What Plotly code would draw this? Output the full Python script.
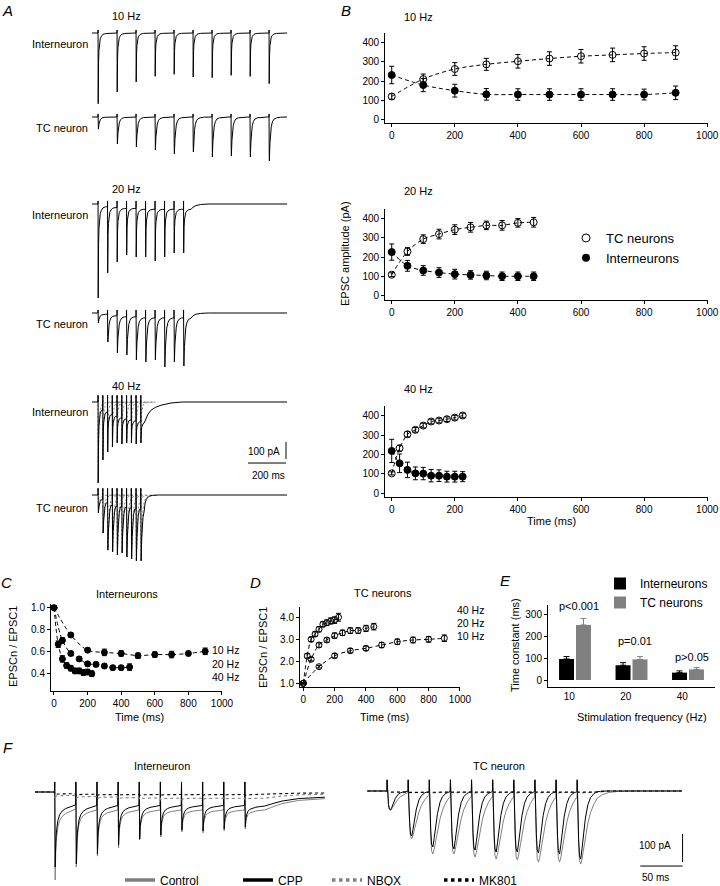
import plotly.graph_objects as go

W, H = 720, 886
FONT = "Liberation Sans"
GREY = "#808080"

# ---------------------------------------------------------------- data
# stimulus times (ms) of the 10-pulse trains
T10 = [0, 100, 200, 300, 400, 500, 600, 700, 800, 900]
T20 = [0, 50, 100, 150, 200, 250, 300, 350, 400, 450]
T40 = [0, 25, 50, 75, 100, 125, 150, 175, 200, 225]

# B: EPSC amplitude (pA), mean and SEM
B10_TC = [120, 210, 262, 286, 302, 316, 328, 335, 342, 347]
B10_TC_ERR = [14, 26, 33, 31, 35, 35, 35, 35, 35, 35]
B10_IN = [231, 179, 150, 131, 130, 130, 130, 130, 130, 139]
B10_IN_ERR = [45, 34, 33, 30, 30, 30, 30, 30, 28, 35]
B20_TC = [110, 230, 294, 320, 343, 355, 365, 365, 378, 381]
B20_TC_ERR = [10, 20, 22, 25, 25, 25, 22, 25, 22, 25]
B20_IN = [227, 156, 132, 121, 113, 109, 106, 102, 102, 102]
B20_IN_ERR = [42, 28, 25, 25, 25, 22, 22, 22, 22, 22]
B40_TC = [103, 233, 305, 328, 350, 371, 376, 383, 391, 402]
B40_TC_ERR = [8, 15, 14, 12, 12, 12, 12, 12, 12, 12]
B40_IN = [219, 155, 121, 103, 102, 91, 91, 86, 86, 86]
B40_IN_ERR = [60, 48, 40, 33, 32, 32, 30, 28, 28, 26]

# C: interneurons, EPSCn / EPSC1
C10 = [1.0, 0.75, 0.61, 0.59, 0.58, 0.56, 0.57, 0.57, 0.58, 0.60]
C10_ERR = [0.0, 0.02, 0.02, 0.03, 0.025, 0.025, 0.025, 0.03, 0.02, 0.03]
C20 = [1.0, 0.70, 0.58, 0.53, 0.485, 0.48, 0.465, 0.45, 0.45, 0.455]
C20_ERR = [0.0, 0.025, 0.02, 0.02, 0.02, 0.02, 0.02, 0.02, 0.02, 0.03]
C40 = [1.0, 0.665, 0.53, 0.47, 0.445, 0.42, 0.42, 0.405, 0.41, 0.395]
C40_ERR = [0.0, 0.03, 0.03, 0.025, 0.025, 0.025, 0.025, 0.025, 0.025, 0.025]

# D: TC neurons, EPSCn / EPSC1
D10 = [1.0, 1.76, 2.26, 2.49, 2.60, 2.75, 2.90, 2.98, 3.01, 3.06]
D10_ERR = [0.03, 0.06, 0.1, 0.1, 0.1, 0.12, 0.12, 0.13, 0.13, 0.15]
D20 = [1.0, 2.10, 2.75, 2.98, 3.18, 3.31, 3.41, 3.41, 3.51, 3.59]
D20_ERR = [0.03, 0.08, 0.1, 0.1, 0.12, 0.12, 0.13, 0.13, 0.14, 0.15]
D40 = [1.0, 2.25, 3.01, 3.25, 3.47, 3.70, 3.77, 3.85, 3.89, 4.02]
D40_ERR = [0.03, 0.1, 0.1, 0.1, 0.12, 0.12, 0.13, 0.14, 0.15, 0.18]

# E: time constants (ms)
E_FREQ = ["10", "20", "40"]
E_IN = [97, 68, 34]
E_IN_ERR = [11, 12, 8]
E_TC = [254, 95, 49]
E_TC_ERR = [30, 13, 8]
E_P = ["p<0.001", "p=0.01", "p>0.05"]
E_P_Y = [341, 180, 106]

# A: example traces, EPSC peak (pA) and sustained current between pulses (pA)
A_IN10 = [416, 347, 288, 255, 243, 259, 263, 249, 255, 298]
A_IN10_PL = [0, 0, 0, 0, 0, 0, 0, 0, 0, 0]
A_TC10 = [71, 159, 176, 194, 218, 206, 235, 229, 235, 259]
A_TC10_PL = [0, 0, 0, 0, 0, 0, 0, 0, 0, 0]
A_IN20 = [553, 406, 341, 300, 312, 312, 335, 312, 288, 288]
A_IN20_PL = [12, 18, 24, 24, 29, 29, 29, 29, 29, 29]
A_TC20 = [59, 171, 235, 247, 276, 288, 276, 318, 288, 312]
A_TC20_PL = [6, 12, 18, 18, 24, 24, 24, 24, 24, 24]
A_IN40 = [476, 341, 294, 265, 241, 247, 241, 241, 247, 241]
A_IN40_PL = [29, 47, 65, 76, 88, 94, 100, 106, 112, 118]
A_TC40 = [106, 224, 324, 335, 353, 341, 365, 376, 388, 388]
A_TC40_PL = [18, 24, 29, 35, 35, 41, 41, 47, 47, 59]

# EPSC waveform templates (time after stimulus in ms, fraction of peak)
SHAPE_IN_T = [1, 2, 3, 5, 8, 12, 18, 26, 40, 60, 90]
SHAPE_IN_F = [1.0, 0.62, 0.42, 0.25, 0.14, 0.08, 0.045, 0.02, 0.008, 0.002, 0.0]
SHAPE_TC_T = [1, 2, 3, 5, 8, 12, 18, 26, 40, 60, 90]
SHAPE_TC_F = [0.8, 1.0, 0.85, 0.6, 0.38, 0.22, 0.11, 0.05, 0.02, 0.005, 0.0]
# decay after the last pulse (ms after, fraction of the last level)
TAIL_NONE = ([], [])
TAIL_IN20 = ([10, 25, 50, 90], [0.6, 0.3, 0.1, 0.0])
TAIL_TC20 = ([10, 25, 50, 90], [0.55, 0.25, 0.08, 0.0])
TAIL_IN40 = ([10, 20, 35, 60, 90, 140, 200], [0.75, 0.58, 0.4, 0.25, 0.15, 0.05, 0.0])
TAIL_TC40 = ([5, 12, 25, 45, 80], [0.5, 0.25, 0.08, 0.02, 0.0])

# F: pharmacology, 40 Hz trains
F_IN_CTRL = [314, 268, 229, 200, 171, 161, 143, 146, 139, 132]
F_IN_CTRL_PL = [62, 64, 64, 64, 64, 64, 64, 64, 64, 64]
F_IN_CPP = [268, 257, 221, 189, 168, 154, 136, 139, 132, 125]
F_IN_CPP_PL = [46, 48, 48, 48, 48, 48, 48, 48, 48, 50]
F_IN_NBQX = [18, 22, 24, 26, 27, 28, 28, 28, 28, 28]
F_IN_NBQX_PL = [12, 16, 18, 20, 21, 22, 22, 22, 22, 22]
F_IN_MK = [10, 12, 12, 12, 12, 12, 12, 12, 12, 12]
F_IN_MK_PL = [6, 8, 9, 9, 9, 9, 9, 9, 9, 9]
F_TC_CTRL = [68, 171, 225, 225, 236, 243, 246, 254, 254, 261]
F_TC_CPP = [68, 161, 200, 207, 211, 218, 218, 221, 225, 243]
F_TC_NBQX = [6, 7, 7, 7, 7, 7, 7, 7, 7, 7]
F_TC_MK = [4, 5, 5, 5, 5, 5, 5, 5, 5, 5]
F_ZERO = [0, 0, 0, 0, 0, 0, 0, 0, 0, 0]
F_TC_SMALL_PL = [3, 4, 4, 4, 4, 4, 4, 4, 4, 4]

F_IN_T = [0.8, 1.5, 2.5, 4, 6, 9, 13, 18, 24]
F_IN_F = [1.0, 0.6, 0.4, 0.25, 0.16, 0.1, 0.06, 0.03, 0.0]
F_TC_T = [1, 2, 3, 4.5, 6, 8, 10, 13, 16, 20, 24]
F_TC_CPP_F = [0.3, 0.7, 0.95, 1.0, 0.85, 0.6, 0.4, 0.2, 0.1, 0.04, 0.01]
F_TC_CTRL_F = [0.3, 0.7, 0.95, 1.0, 0.93, 0.78, 0.62, 0.44, 0.3, 0.18, 0.1]
F_TAIL_IN = ([8, 20, 40, 65, 93], [0.85, 0.65, 0.47, 0.36, 0.3])
F_TAIL_TC_CTRL = ([6, 14, 25, 40], [0.5, 0.2, 0.05, 0.0])
F_TAIL_TC_CPP = ([6, 14], [0.3, 0.0])

# scale bars
A_BAR_PA, A_BAR_MS = 100, 200
F_BAR_PA, F_BAR_MS = 100, 50


# ---------------------------------------------------------------- helpers
def train(times, peaks, plateaus, shp_t, shp_f, tail, art, t_start, t_end):
    """Build a current trace from a train of EPSCs."""
    interval = times[1] - times[0]
    xs, ys = [t_start], [0.0]
    level = 0.0
    for i, t0 in enumerate(times):
        xs.append(t0)
        ys.append(level)
        if art:
            xs.append(t0 + 0.3)
            ys.append(art)
        pl = -plateaus[i]
        for dt, f in zip(shp_t, shp_f):
            if dt >= interval - 0.5:
                break
            xs.append(t0 + dt)
            ys.append(pl + (-peaks[i] - pl) * f)
        level = ys[-1]
    t_last = xs[-1]
    for dt, f in zip(*tail):
        xs.append(t_last + dt)
        ys.append(level * f)
    if xs[-1] < t_end:
        xs.append(t_end)
        ys.append(ys[-1])
    return xs, ys


def singles(times, peaks, shp_t, shp_f, art):
    xs, ys = [], []
    for t0, pk in zip(times, peaks):
        xs += [t0, t0 + 0.3]
        ys += [0, art]
        for dt, f in zip(shp_t, shp_f):
            xs.append(t0 + dt)
            ys.append(-pk * f)
        xs.append(None)
        ys.append(None)
    return xs, ys


def sfx(n):
    return "" if n == 1 else str(n)


def clamp(v):
    return min(1.0, max(0.0, v))


layout_axes = {}
AX = dict(showline=True, linecolor="black", linewidth=1, ticks="outside",
          ticklen=3, tickwidth=1, tickcolor="black", showgrid=False,
          zeroline=False, fixedrange=True, automargin=False,
          ticklabelposition="outside", ticklabeloverflow="allow",
          tickfont=dict(size=10, color="black", family=FONT))


def add_axes(n, x0px, xscale, xr, y0px, yscale, yr, visible=True, xkw=None, ykw=None):
    """x0px / y0px: pixel of data value 0, scales in px per unit."""
    s = sfx(n)
    base = AX if visible else dict(visible=False, fixedrange=True)
    xl, xr_ = x0px + xr[0] * xscale, x0px + xr[1] * xscale
    yt, yb = y0px - yr[1] * yscale, y0px - yr[0] * yscale
    xa = dict(base, domain=[clamp(xl / W), clamp(xr_ / W)], range=xr, anchor="y" + s)
    ya = dict(base, domain=[clamp(1 - yb / H), clamp(1 - yt / H)], range=yr, anchor="x" + s)
    xa.update(xkw or {})
    ya.update(ykw or {})
    layout_axes["xaxis" + s] = xa
    layout_axes["yaxis" + s] = ya


def series(n, t, y, err, filled, size):
    s = sfx(n)
    return go.Scatter(
        x=t, y=y, xaxis="x" + s, yaxis="y" + s, mode="lines+markers",
        line=dict(color="black", width=1, dash="4px,3px", shape="spline", smoothing=0.9),
        marker=dict(symbol="circle" if filled else "circle-open", size=size,
                    color="black", line=dict(color="black", width=1)),
        error_y=dict(type="data", array=err, color="black", thickness=1, width=2.5),
        showlegend=False, hoverinfo="skip")


def wave(n, xs, ys, color="black", dash=None, width=1):
    s = sfx(n)
    return go.Scatter(x=xs, y=ys, xaxis="x" + s, yaxis="y" + s, mode="lines",
                      line=dict(color=color, width=width, dash=dash),
                      showlegend=False, hoverinfo="skip")


def label(text, x, y, size=11, xanchor="center", angle=0, color="black"):
    return dict(text=text, x=x / W, y=1 - y / H, xref="paper", yref="paper",
                xanchor=xanchor, yanchor="middle", showarrow=False,
                textangle=angle, font=dict(size=size, color=color, family=FONT))


fig = go.Figure()

# ---------------------------------------------------------------- B
B_X = dict(tickvals=[0, 200, 400, 600, 800, 1000])
B_Y = dict(tickvals=[0, 100, 200, 300, 400])
for n, zero_px in [(1, 119.7), (2, 296.0), (3, 493.3)]:
    add_axes(n, 391.7, 0.3155, [-21, 1001], zero_px, 0.1935, [-19, 450], xkw=B_X, ykw=B_Y)
for n, t, tc, tce, inn, ine in [(1, T10, B10_TC, B10_TC_ERR, B10_IN, B10_IN_ERR),
                                (2, T20, B20_TC, B20_TC_ERR, B20_IN, B20_IN_ERR),
                                (3, T40, B40_TC, B40_TC_ERR, B40_IN, B40_IN_ERR)]:
    fig.add_trace(series(n, t, tc, tce, False, 7))
    fig.add_trace(series(n, t, inn, ine, True, 7))

fig.add_trace(go.Scatter(x=[None], y=[None], mode="markers", name="TC neurons",
                         marker=dict(symbol="circle-open", size=8, color="black",
                                     line=dict(width=1)), legend="legend"))
fig.add_trace(go.Scatter(x=[None], y=[None], mode="markers", name="Interneurons",
                         marker=dict(symbol="circle", size=8, color="black"), legend="legend"))

# ---------------------------------------------------------------- C, D
add_axes(4, 54, 0.168, [-18, 1002], 607.7 + 109, 109, [0.234, 1.03],
         xkw=B_X, ykw=dict(tickvals=[0.4, 0.6, 0.8, 1.0], tickformat=".1f"))
for t, y, e in [(T10, C10, C10_ERR), (T20, C20, C20_ERR), (T40, C40, C40_ERR)]:
    fig.add_trace(series(4, t, y, e, True, 6))

add_axes(5, 303.3, 0.1567, [-21, 1003], 683.3 + 21.87, 21.87, [0.82, 4.5],
         xkw=B_X, ykw=dict(tickvals=[1, 2, 3, 4], tickformat=".1f"))
for t, y, e in [(T10, D10, D10_ERR), (T20, D20, D20_ERR), (T40, D40, D40_ERR)]:
    fig.add_trace(series(5, t, y, e, False, 6))

# ---------------------------------------------------------------- E
E_POS = list(range(len(E_FREQ)))
add_axes(6, 575, 56.5, [-0.478, 2.478], 680, 0.2167, [-32, 346],
         xkw=dict(tickvals=[p - 0.1 for p in E_POS], ticktext=E_FREQ, ticks=""),
         ykw=dict(tickvals=[0, 100, 200, 300]))
fig.add_trace(go.Bar(x=[p - 0.15 for p in E_POS], y=E_IN, width=0.265, name="Interneurons",
                     marker=dict(color="black", line=dict(width=0)), xaxis="x6", yaxis="y6",
                     error_y=dict(type="data", symmetric=False, array=E_IN_ERR,
                                  arrayminus=[0] * len(E_IN), color="black", thickness=1, width=3),
                     legend="legend2", hoverinfo="skip"))
fig.add_trace(go.Bar(x=[p + 0.15 for p in E_POS], y=E_TC, width=0.265, name="TC neurons",
                     marker=dict(color=GREY, line=dict(width=0)), xaxis="x6", yaxis="y6",
                     error_y=dict(type="data", symmetric=False, array=E_TC_ERR,
                                  arrayminus=[0] * len(E_TC), color=GREY, thickness=1, width=3),
                     legend="legend2", hoverinfo="skip"))

# ---------------------------------------------------------------- A traces
A_ROWS = [
    (7, 33, T10, A_IN10, A_IN10_PL, SHAPE_IN_T, SHAPE_IN_F, TAIL_NONE, 18),
    (8, 117, T10, A_TC10, A_TC10_PL, SHAPE_TC_T, SHAPE_TC_F, TAIL_NONE, 18),
    (9, 204, T20, A_IN20, A_IN20_PL, SHAPE_IN_T, SHAPE_IN_F, TAIL_IN20, 18),
    (10, 313, T20, A_TC20, A_TC20_PL, SHAPE_TC_T, SHAPE_TC_F, TAIL_TC20, 18),
    (11, 402, T40, A_IN40, A_IN40_PL, SHAPE_IN_T, SHAPE_IN_F, TAIL_IN40, 40),
    (12, 495, T40, A_TC40, A_TC40_PL, SHAPE_TC_T, SHAPE_TC_F, TAIL_TC40, 40),
]
for n, base, t, pk, pl, st, sf, tail, art in A_ROWS:
    add_axes(n, 98, 0.19, [-40, 1010], base, 0.17, [-100 / 0.17, 12 / 0.17], visible=False)
    if t is T40:
        xs, ys = singles(t, pk, st, sf, art)
        fig.add_trace(wave(n, xs, ys, color=GREY, dash="2px,2px"))
    xs, ys = train(t, pk, pl, st, sf, tail, art, -32, 995)
    fig.add_trace(wave(n, xs, ys))

# A scale bar (on the 40 Hz interneuron row)
fig.add_trace(wave(11, [989.5, 989.5, None, 989.5 - A_BAR_MS, 989.5],
                   [-235, -235 - A_BAR_PA, None, -359, -359]))

# ---------------------------------------------------------------- F traces
add_axes(13, 54.5, 0.845, [-25, 320], 792, 0.28, [-335, 78.6], visible=False)
add_axes(14, 386.8, 0.845, [-25, 355], 791, 0.28, [-338, 75], visible=False)

F_SETS = [
    (13, [(F_IN_CTRL, F_IN_CTRL_PL, F_IN_T, F_IN_F, F_TAIL_IN, 36, GREY, None),
          (F_IN_CPP, F_IN_CPP_PL, F_IN_T, F_IN_F, F_TAIL_IN, 36, "black", None),
          (F_IN_NBQX, F_IN_NBQX_PL, F_IN_T, F_IN_F, F_TAIL_IN, 0, GREY, "dot"),
          (F_IN_MK, F_IN_MK_PL, F_IN_T, F_IN_F, F_TAIL_IN, 0, "black", "dot")], 318),
    (14, [(F_TC_CTRL, F_ZERO, F_TC_T, F_TC_CTRL_F, F_TAIL_TC_CTRL, 40, GREY, None),
          (F_TC_CPP, F_ZERO, F_TC_T, F_TC_CPP_F, F_TAIL_TC_CPP, 40, "black", None),
          (F_TC_NBQX, F_TC_SMALL_PL, F_TC_T, F_TC_CPP_F, F_TAIL_TC_CPP, 0, GREY, "dot"),
          (F_TC_MK, F_TC_SMALL_PL, F_TC_T, F_TC_CPP_F, F_TAIL_TC_CPP, 0, "black", "dot")], 349),
]
for n, sets, t_end in F_SETS:
    for pk, pl, st, sf, tail, art, col, dash in sets:
        xs, ys = train(T40, pk, pl, st, sf, tail, art, -23, t_end)
        fig.add_trace(wave(n, xs, ys, color=col, dash=dash, width=1.1 if dash else 1))

fig.add_trace(wave(14, [350, 350, None, 350 - F_BAR_MS, 350],
                   [-153.6, -153.6 - F_BAR_PA, None, -268, -268]))

# legend entries for F, each with its own entry width to spread them like the original
for name, lw, col, dash in [("Control", 73, GREY, None), ("CPP", 44, "black", None),
                            ("NBQX", 67, GREY, "dot"), ("MK801", 50, "black", "dot")]:
    fig.add_trace(go.Scatter(x=[None], y=[None], mode="lines", name=name, legendwidth=lw,
                             line=dict(color=col, width=3.5, dash=dash), legend="legend3"))

# ---------------------------------------------------------------- text
ann = []
for txt, x, y in [("A", 7, 10), ("B", 346, 10), ("C", 6, 582), ("D", 255, 582),
                  ("E", 506, 580), ("F", 8, 747)]:
    ann.append(label("<i>" + txt + "</i>", x, y, size=15))
for txt, y in [("10 Hz", 16), ("20 Hz", 189), ("40 Hz", 386)]:
    ann.append(label(txt, 110, y, xanchor="left"))
for txt, y in [("Interneuron", 44), ("TC neuron", 128), ("Interneuron", 215),
               ("TC neuron", 324), ("Interneuron", 412), ("TC neuron", 508)]:
    ann.append(label(txt, 90, y, xanchor="right"))
ann.append(label("%d pA" % A_BAR_PA, 282, 451, size=10, xanchor="right"))
ann.append(label("%d ms" % A_BAR_MS, 268, 475, size=10))
for txt, y in [("10 Hz", 17), ("20 Hz", 191), ("40 Hz", 389)]:
    ann.append(label(txt, 402, y, xanchor="left"))
ann.append(label("EPSC amplitude (pA)", 345, 254, angle=-90))
ann.append(label("Time (ms)", 551, 521))
ann.append(label("Interneurons", 127, 594))
ann.append(label("TC neurons", 383, 593))
ann.append(label("EPSCn / EPSC1", 13, 647, angle=-90))
ann.append(label("EPSCn / EPSC1", 263, 648, angle=-90))
ann.append(label("Time constant (ms)", 515, 645, angle=-90))
ann.append(label("Time (ms)", 139, 717))
ann.append(label("Time (ms)", 384, 717))
ann.append(label("Stimulation frequency (Hz)", 642, 717))
for txt, y in [("10 Hz", 650), ("20 Hz", 664), ("40 Hz", 677)]:
    ann.append(label(txt, 210, y, size=10.5, xanchor="left"))
for txt, y in [("40 Hz", 610), ("20 Hz", 623), ("10 Hz", 636)]:
    ann.append(label(txt, 455, y, size=10.5, xanchor="left"))
for p, txt, yv in zip(E_POS, E_P, E_P_Y):
    ann.append(dict(text=txt, x=p + 0.07, y=yv, xref="x6", yref="y6", showarrow=False,
                    font=dict(size=11, color="black", family=FONT)))
ann.append(label("Interneuron", 162, 766))
ann.append(label("TC neuron", 499, 766))
ann.append(label("%d pA" % F_BAR_PA, 673, 845, size=10, xanchor="right"))
ann.append(label("%d ms" % F_BAR_MS, 655, 877, size=10))

fig.update_layout(
    width=W, height=H, margin=dict(l=0, r=0, t=0, b=0, autoexpand=False),
    paper_bgcolor="white", plot_bgcolor="rgba(0,0,0,0)",
    font=dict(family=FONT, color="black"),
    barmode="overlay",
    annotations=ann,
    legend=dict(x=566 / W, y=1 - 223 / H, xanchor="left", yanchor="top",
                bgcolor="rgba(0,0,0,0)", font=dict(size=13), tracegroupgap=0),
    legend2=dict(x=600 / W, y=1 - 569 / H, xanchor="left", yanchor="top",
                 bgcolor="rgba(0,0,0,0)", font=dict(size=12), tracegroupgap=0),
    legend3=dict(x=120 / W, y=1 - 880 / H, xanchor="left", yanchor="middle",
                 orientation="h", bgcolor="rgba(0,0,0,0)", font=dict(size=12)),
    **layout_axes,
)

# the page's default body margin would shift the 720x886 figure by 8 px
fig.write_html("out.html", config={"displayModeBar": False},
               post_script="document.body.style.margin='0px';")
